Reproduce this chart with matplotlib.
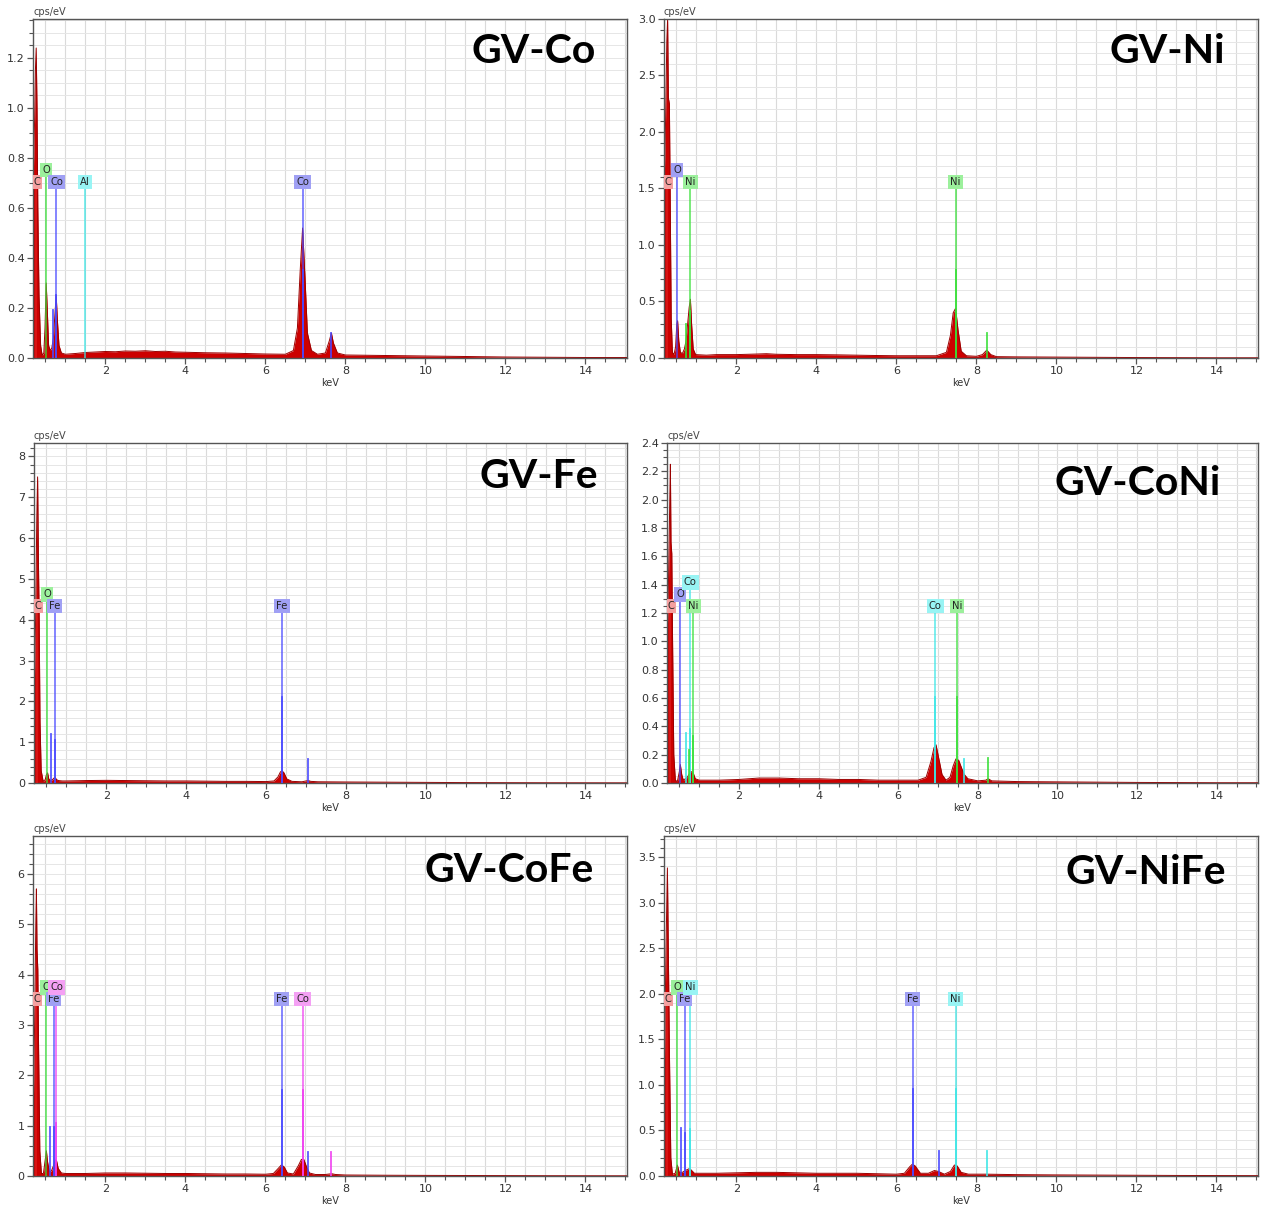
import matplotlib
matplotlib.use("Agg")
import matplotlib.pyplot as plt
import matplotlib.transforms as mtransforms
from matplotlib.ticker import MultipleLocator, FormatStrFormatter

# ---------------------------------------------------------------------------
# Characteristic X-ray line energies (keV)
# ---------------------------------------------------------------------------
C_KA = 0.277
O_KA = 0.525
AL_KA = 1.486
FE_LL, FE_LA, FE_KA, FE_KB = 0.615, 0.705, 6.404, 7.058
CO_LL, CO_LA, CO_KA, CO_KB = 0.678, 0.776, 6.930, 7.649
NI_LL, NI_LA, NI_KA, NI_KB = 0.743, 0.851, 7.478, 8.265

# ---------------------------------------------------------------------------
# Spectra: energy (keV) and intensity (cps/eV)
# ---------------------------------------------------------------------------
co_energy = [0.17, 0.20, 0.23, 0.25, 0.27, 0.29, 0.31, 0.34, 0.38, 0.42, 0.46,
             0.49, 0.52, 0.55, 0.58, 0.62, 0.66, 0.70, 0.74, 0.77, 0.80, 0.84,
             0.90, 1.0, 1.25, 1.5, 1.75, 2.0, 2.25, 2.5, 2.75, 3.0, 3.25, 3.5,
             3.75, 4.0, 4.5, 5.0, 5.5, 6.0, 6.5, 6.7, 6.8, 6.87, 6.93, 6.99,
             7.05, 7.15, 7.3, 7.5, 7.6, 7.65, 7.7, 7.8, 8.0, 9.0, 10.0, 11.0,
             12.0, 13.0, 14.0, 15.1]
co_counts = [0.70, 0.75, 0.95, 1.15, 1.24, 1.00, 0.60, 0.25, 0.05, 0.01, 0.02,
             0.12, 0.30, 0.18, 0.05, 0.03, 0.04, 0.08, 0.18, 0.25, 0.15, 0.05,
             0.02, 0.015, 0.018, 0.022, 0.024, 0.026, 0.025, 0.028, 0.027,
             0.029, 0.026, 0.027, 0.024, 0.023, 0.021, 0.02, 0.018, 0.016,
             0.015, 0.03, 0.12, 0.35, 0.52, 0.32, 0.10, 0.03, 0.015, 0.02,
             0.07, 0.10, 0.06, 0.02, 0.012, 0.01, 0.008, 0.006, 0.004, 0.003,
             0.002, 0.002]

ni_energy = [0.17, 0.18, 0.22, 0.26, 0.28, 0.30, 0.325, 0.35, 0.37, 0.40,
             0.44, 0.48, 0.51, 0.53, 0.56, 0.60, 0.65, 0.70, 0.74, 0.78, 0.82,
             0.85, 0.88, 0.92, 0.98, 1.25, 1.5, 2.0, 2.5, 2.75, 3.0, 3.5, 4.0,
             4.5, 5.0, 5.5, 6.0, 6.5, 7.0, 7.25, 7.35, 7.42, 7.48, 7.54, 7.62,
             7.75, 8.0, 8.15, 8.26, 8.36, 8.5, 9.0, 10.0, 11.0, 12.0, 13.0,
             14.0, 15.1]
ni_counts = [1.40, 1.40, 1.90, 2.80, 3.00, 2.30, 2.25, 1.20, 0.35, 0.05,
             0.03, 0.10, 0.30, 0.33, 0.15, 0.05, 0.04, 0.08, 0.15, 0.30, 0.45,
             0.52, 0.30, 0.08, 0.03, 0.025, 0.03, 0.03, 0.035, 0.038, 0.033,
             0.03, 0.03, 0.028, 0.025, 0.022, 0.02, 0.02, 0.02, 0.05, 0.20,
             0.40, 0.44, 0.25, 0.06, 0.02, 0.015, 0.03, 0.07, 0.03, 0.012, 0.01,
             0.008, 0.006, 0.004, 0.003, 0.002, 0.002]

fe_energy = [0.17, 0.20, 0.23, 0.26, 0.28, 0.30, 0.32, 0.34, 0.37, 0.42, 0.47,
             0.50, 0.53, 0.56, 0.60, 0.65, 0.69, 0.72, 0.76, 0.80, 0.90, 1.0,
             1.5, 2.0, 2.5, 3.0, 3.5, 4.0, 4.5, 5.0, 5.5, 6.0, 6.2, 6.3, 6.36,
             6.40, 6.45, 6.52, 6.65, 6.9, 7.0, 7.06, 7.12, 7.3, 8.0, 9.0, 10.0,
             11.0, 12.0, 13.0, 14.0, 15.1]
fe_counts = [1.6, 2.5, 4.0, 6.5, 7.5, 5.5, 4.0, 1.5, 0.3, 0.04, 0.08,
             0.20, 0.25, 0.10, 0.06, 0.08, 0.12, 0.13, 0.08, 0.06, 0.05, 0.05,
             0.06, 0.065, 0.06, 0.055, 0.05, 0.05, 0.045, 0.04, 0.04, 0.035,
             0.05, 0.15, 0.27, 0.30, 0.25, 0.10, 0.04, 0.03, 0.05, 0.06, 0.04,
             0.03, 0.025, 0.02, 0.015, 0.01, 0.008, 0.006, 0.005, 0.004]

coni_energy = [0.17, 0.18, 0.22, 0.26, 0.275, 0.29, 0.31, 0.33, 0.36, 0.40,
               0.45, 0.50, 0.525, 0.56, 0.60, 0.65, 0.70, 0.76, 0.80, 0.85,
               0.90, 1.0, 1.5, 2.0, 2.5, 3.0, 3.5, 4.0, 4.5, 5.0, 5.5, 6.0, 6.5,
               6.7, 6.82, 6.90, 6.95, 7.0, 7.1, 7.2, 7.3, 7.38, 7.45, 7.52, 7.6,
               7.66, 7.75, 8.0, 8.2, 8.26, 8.35, 9.0, 10.0, 11.0, 12.0, 13.0,
               14.0, 15.1]
coni_counts = [0.90, 0.90, 1.30, 2.00, 2.25, 1.70, 1.62, 1.00, 0.20, 0.02,
               0.01, 0.08, 0.13, 0.06, 0.02, 0.03, 0.04, 0.07, 0.08, 0.07,
               0.03, 0.02, 0.02, 0.025, 0.035, 0.035, 0.03, 0.03, 0.025, 0.025,
               0.02, 0.02, 0.02, 0.04, 0.15, 0.25, 0.27, 0.20, 0.06, 0.02, 0.04,
               0.12, 0.17, 0.16, 0.10, 0.06, 0.03, 0.015, 0.02, 0.03, 0.015,
               0.01, 0.008, 0.006, 0.004, 0.003, 0.002, 0.002]

cofe_energy = [0.17, 0.20, 0.23, 0.26, 0.275, 0.29, 0.31, 0.33, 0.36, 0.40,
               0.45, 0.50, 0.525, 0.55, 0.60, 0.65, 0.70, 0.75, 0.78, 0.82,
               0.90, 1.0, 1.5, 2.0, 2.5, 3.0, 3.5, 4.0, 4.5, 5.0, 5.5, 6.0, 6.2,
               6.32, 6.40, 6.47, 6.55, 6.7, 6.82, 6.90, 6.96, 7.02, 7.1, 7.25,
               7.5, 7.6, 7.66, 7.75, 8.0, 9.0, 10.0, 11.0, 12.0, 13.0, 14.0,
               15.1]
cofe_counts = [1.5, 1.5, 3.0, 5.0, 5.7, 4.5, 4.1, 2.5, 0.5, 0.05,
               0.05, 0.35, 0.50, 0.30, 0.08, 0.10, 0.20, 0.32, 0.30, 0.15,
               0.06, 0.05, 0.05, 0.06, 0.06, 0.055, 0.05, 0.05, 0.045, 0.04,
               0.04, 0.035, 0.05, 0.15, 0.22, 0.18, 0.06, 0.04, 0.20, 0.33,
               0.33, 0.20, 0.06, 0.03, 0.03, 0.04, 0.045, 0.03, 0.02, 0.015,
               0.012, 0.01, 0.008, 0.006, 0.005, 0.004]

nife_energy = [0.17, 0.20, 0.24, 0.275, 0.30, 0.33, 0.36, 0.40, 0.47, 0.525,
               0.57, 0.65, 0.72, 0.82, 0.86, 0.95, 1.0, 1.5, 2.0, 2.5, 3.0,
               3.5, 4.0, 5.0, 5.5, 6.0, 6.2, 6.33, 6.40, 6.47, 6.6, 6.8, 6.95,
               7.05, 7.2, 7.35, 7.45, 7.52, 7.62, 7.8, 8.26, 9.0, 10.0, 11.0,
               12.0, 13.0, 14.0, 15.1]
nife_counts = [0.78, 1.20, 2.50, 3.38, 2.40, 1.20, 0.20, 0.02, 0.03, 0.12,
               0.04, 0.04, 0.06, 0.08, 0.07, 0.03, 0.03, 0.03, 0.035, 0.04,
               0.04, 0.035, 0.03, 0.03, 0.025, 0.02, 0.03, 0.10, 0.13, 0.11,
               0.03, 0.03, 0.06, 0.05, 0.02, 0.05, 0.12, 0.11, 0.04, 0.02, 0.02,
               0.015, 0.012, 0.01, 0.008, 0.006, 0.005, 0.004]

# ---------------------------------------------------------------------------
# Element markers: (label, energy, tier, colour key) and extra lines
# (energy, height in cps/eV, colour key)
# ---------------------------------------------------------------------------
co_labels = [("C", C_KA, 0, "red"), ("O", O_KA, 1, "green"),
             ("Co", CO_LA, 0, "blue"), ("Al", AL_KA, 0, "cyan"),
             ("Co", CO_KA, 0, "blue")]
co_lines = [(CO_LL, 0.19, "blue"), (CO_LA, 0.25, "blue"),
            (CO_KA, 0.35, "blue"), (CO_KB, 0.10, "blue")]

ni_labels = [("C", C_KA, 0, "red"), ("O", O_KA, 1, "blue"),
             ("Ni", NI_LA, 0, "green"), ("Ni", NI_KA, 0, "green")]
ni_lines = [(NI_LL, 0.30, "green"), (NI_LA, 0.42, "green"),
            (NI_KA, 0.78, "green"), (NI_KB, 0.22, "green")]

fe_labels = [("C", C_KA, 0, "red"), ("O", O_KA, 1, "green"),
             ("Fe", FE_LA, 0, "blue"), ("Fe", FE_KA, 0, "blue")]
fe_lines = [(FE_LL, 1.20, "blue"), (FE_LA, 1.05, "blue"),
            (FE_KA, 2.10, "blue"), (FE_KB, 0.60, "blue")]

coni_labels = [("C", C_KA, 0, "red"), ("O", O_KA, 1, "blue"),
               ("Co", CO_LA, 2, "cyan"), ("Ni", NI_LA, 0, "green"),
               ("Co", CO_KA, 0, "cyan"), ("Ni", NI_KA, 0, "green")]
coni_lines = [(CO_LL, 0.35, "cyan"), (CO_LA, 0.38, "cyan"),
              (NI_LL, 0.23, "green"), (NI_LA, 0.33, "green"),
              (CO_KA, 0.61, "cyan"), (NI_KA, 0.61, "green"),
              (CO_KB, 0.17, "cyan"), (NI_KB, 0.18, "green")]

cofe_labels = [("C", C_KA, 0, "red"), ("O", O_KA, 1, "green"),
               ("Fe", FE_LA, 0, "blue"), ("Co", CO_LA, 1, "magenta"),
               ("Fe", FE_KA, 0, "blue"), ("Co", CO_KA, 0, "magenta")]
cofe_lines = [(FE_LL, 0.97, "blue"), (FE_LA, 0.97, "blue"),
              (CO_LA, 1.05, "magenta"), (FE_KA, 1.70, "blue"),
              (CO_KA, 1.70, "magenta"), (FE_KB, 0.48, "blue"),
              (CO_KB, 0.48, "magenta")]

nife_labels = [("C", C_KA, 0, "red"), ("O", O_KA, 1, "green"),
               ("Fe", FE_LA, 0, "blue"), ("Ni", NI_LA, 1, "cyan"),
               ("Fe", FE_KA, 0, "blue"), ("Ni", NI_KA, 0, "cyan")]
nife_lines = [(FE_LL, 0.53, "blue"), (FE_LA, 0.47, "blue"),
              (NI_LA, 0.52, "cyan"), (FE_KA, 0.95, "blue"),
              (NI_KA, 0.95, "cyan"), (FE_KB, 0.27, "blue"),
              (NI_KB, 0.27, "cyan")]

sample_names = ["GV-Co", "GV-Ni", "GV-Fe", "GV-CoNi", "GV-CoFe", "GV-NiFe"]
y_max = [1.356, 3.0, 8.33, 2.40, 6.75, 3.73]
y_major = [0.2, 0.5, 1.0, 0.2, 1.0, 0.5]
y_minor = [0.05, 0.1, 0.2, 0.05, 0.2, 0.1]
y_format = ["%.1f", "%.1f", "%d", "%.1f", "%d", "%.1f"]

spectra = [(co_energy, co_counts, co_labels, co_lines),
           (ni_energy, ni_counts, ni_labels, ni_lines),
           (fe_energy, fe_counts, fe_labels, fe_lines),
           (coni_energy, coni_counts, coni_labels, coni_lines),
           (cofe_energy, cofe_counts, cofe_labels, cofe_lines),
           (nife_energy, nife_counts, nife_labels, nife_lines)]

# ---------------------------------------------------------------------------
# Styling
# ---------------------------------------------------------------------------
LINE_COLORS = {"red": "#e02020", "green": "#38e038", "blue": "#4848ff",
               "cyan": "#3ce6e6", "magenta": "#f03cf0"}
BOX_COLORS = {"red": "#f4a0a0", "green": "#9cf09c", "blue": "#a0a0f4",
              "cyan": "#98f4f4", "magenta": "#f4a0f4"}
SPEC_FILL = "#cc0000"
SPEC_EDGE = "#9a0000"
TIER_Y = [0.52, 0.555, 0.59]
BOX_HALF = 0.018

W, H = 1263, 1211
fig = plt.figure(figsize=(W / 100, H / 100), dpi=100)
fig.patch.set_facecolor("white")

# axes rectangles in pixels: (left, top, right, bottom)
rects = [(33, 19, 627, 358), (664, 19, 1258, 358),
         (34, 443, 627, 783), (667, 443, 1258, 783),
         (33, 836, 627, 1176), (664, 836, 1258, 1176)]
title_anchor = [(0.948, 0.903), (0.944, 0.903), (0.951, 0.90),
                (0.937, 0.882), (0.944, 0.90), (0.946, 0.894)]

for i, (l, t, r, b) in enumerate(rects):
    ax = fig.add_axes([l / W, 1 - b / H, (r - l) / W, (b - t) / H])
    energy, counts, labels, lines = spectra[i]

    ax.set_xlim(0.19, 15.04)
    ax.set_ylim(0, y_max[i])

    # grid on every tick, vertical lines a touch darker
    ax.xaxis.set_major_locator(MultipleLocator(2))
    ax.xaxis.set_minor_locator(MultipleLocator(0.5))
    ax.yaxis.set_major_locator(MultipleLocator(y_major[i]))
    ax.yaxis.set_minor_locator(MultipleLocator(y_minor[i]))
    ax.yaxis.set_major_formatter(FormatStrFormatter(y_format[i]))
    ax.grid(True, axis="x", which="both", color="#dadada", linewidth=0.8)
    ax.grid(True, axis="y", which="both", color="#e6e6e6", linewidth=0.7)
    ax.set_axisbelow(True)

    # spectrum
    ax.fill_between(energy, counts, 0, color=SPEC_FILL, linewidth=0,
                    zorder=2)
    ax.plot(energy, counts, color=SPEC_EDGE, linewidth=0.7, zorder=2.1)

    # element marker lines up to the labels
    blend = mtransforms.blended_transform_factory(ax.transData, ax.transAxes)
    for text, e, tier, ck in labels:
        top = TIER_Y[tier] - BOX_HALF
        ax.plot([e, e], [0, top], transform=blend, color=LINE_COLORS[ck],
                linewidth=1.1, alpha=0.85, zorder=3)
    for e, h, ck in lines:
        ax.plot([e, e], [0, h], color=LINE_COLORS[ck], linewidth=1.3,
                alpha=0.9, zorder=3.1)
    for text, e, tier, ck in labels:
        ax.text(e, TIER_Y[tier], text, transform=blend, ha="center",
                va="center", fontsize=7.2, color="#222222", zorder=5,
                bbox=dict(boxstyle="square,pad=0.22", fc=BOX_COLORS[ck],
                          ec="none"), clip_on=True)

    # axes styling
    for side in ["left", "bottom", "top", "right"]:
        ax.spines[side].set_color("#555555")
        ax.spines[side].set_linewidth(1.0)
    ax.tick_params(axis="both", which="major", direction="out", length=4,
                   width=0.9, color="#555555", labelsize=8,
                   labelcolor="#333333", pad=2)
    ax.tick_params(axis="both", which="minor", direction="out", length=3,
                   width=0.8, color="#555555")
    ax.set_xlabel("keV", fontsize=7, color="#333333", labelpad=1)
    ax.text(0.0, 1.006, "cps/eV", transform=ax.transAxes, ha="left",
            va="bottom", fontsize=7, color="#444444")

    tx, ty = title_anchor[i]
    ax.text(tx, ty, sample_names[i], transform=ax.transAxes, ha="right",
            va="center", fontsize=29.5, fontweight="bold",
            family=["Lato", "DejaVu Sans"], color="black", zorder=6)

fig.savefig("out.png", dpi=100, facecolor="white")
